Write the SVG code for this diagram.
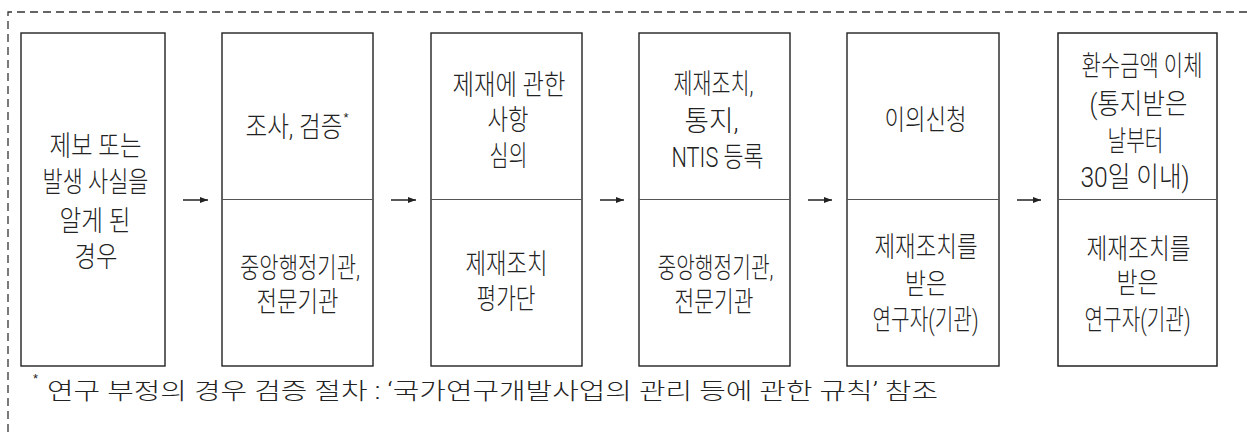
<svg xmlns="http://www.w3.org/2000/svg" width="1247" height="432" viewBox="0 0 1247 432">
<style>
.box{fill:#fff;stroke:#222;stroke-width:1.4}
.div{stroke:#555;stroke-width:1.2}
.t{font-family:"Roboto","Liberation Sans","Noto Sans CJK KR",sans-serif;font-size:28px;font-weight:300;fill:#222;text-anchor:middle}
.fn{font-family:"Roboto","Liberation Sans","Noto Sans CJK KR",sans-serif;font-size:23px;font-weight:300;fill:#222}
.sup{font-family:"Liberation Sans",sans-serif;font-size:13px;fill:#222}
.s13{font-family:"Liberation Sans",sans-serif;font-size:13px}
.arr{stroke:#222;stroke-width:1.5;fill:none}
.frame{fill:none;stroke:#333;stroke-width:1.3;stroke-dasharray:8 5}
</style>
<defs>
<marker id="ah" viewBox="0 0 8 6" refX="8" refY="3" markerWidth="8" markerHeight="6" markerUnits="userSpaceOnUse" orient="auto">
<path d="M0,0 L8,3 L0,6 Z" fill="#222"/>
</marker>
</defs>
<path class="frame" d="M8,432 V12 H1247"/>

<g id="n1">
<rect class="box" x="21" y="33" width="144" height="333"/>
<text class="t" x="95.5" y="156" textLength="92" lengthAdjust="spacingAndGlyphs">제보 또는</text>
<text class="t" x="95.5" y="192" textLength="106" lengthAdjust="spacingAndGlyphs">발생 사실을</text>
<text class="t" x="95" y="230.5" textLength="71" lengthAdjust="spacingAndGlyphs">알게 된</text>
<text class="t" x="96" y="266.5" textLength="43" lengthAdjust="spacingAndGlyphs">경우</text>
</g>

<g id="n2">
<rect class="box" x="222" y="33" width="151" height="333"/>
<line class="div" x1="222" y1="199.5" x2="373" y2="199.5"/>
<text class="t" x="297" y="137"><tspan textLength="97" lengthAdjust="spacingAndGlyphs">조사, 검증</tspan><tspan class="s13" dx="1" dy="-15">*</tspan></text>
<text class="t" x="300" y="277.5" textLength="120" lengthAdjust="spacingAndGlyphs">중앙행정기관,</text>
<text class="t" x="297.5" y="311.5" textLength="82" lengthAdjust="spacingAndGlyphs">전문기관</text>
</g>

<g id="n3">
<rect class="box" x="431" y="33" width="151" height="333"/>
<line class="div" x1="431" y1="199.5" x2="582" y2="199.5"/>
<text class="t" x="509" y="94.5" textLength="113" lengthAdjust="spacingAndGlyphs">제재에 관한</text>
<text class="t" x="508" y="129.5" textLength="41" lengthAdjust="spacingAndGlyphs">사항</text>
<text class="t" x="508.5" y="165.5" textLength="38" lengthAdjust="spacingAndGlyphs">심의</text>
<text class="t" x="506.5" y="274" textLength="82" lengthAdjust="spacingAndGlyphs">제재조치</text>
<text class="t" x="506" y="309" textLength="59" lengthAdjust="spacingAndGlyphs">평가단</text>
</g>

<g id="n4">
<rect class="box" x="639" y="33" width="151" height="333"/>
<line class="div" x1="639" y1="199.5" x2="790" y2="199.5"/>
<text class="t" x="713.5" y="93.5" textLength="80" lengthAdjust="spacingAndGlyphs">제재조치,</text>
<text class="t" x="711.5" y="130.5" textLength="54" lengthAdjust="spacingAndGlyphs">통지,</text>
<text class="t" x="717.5" y="166.5" textLength="92" lengthAdjust="spacingAndGlyphs">NTIS 등록</text>
<text class="t" x="715.5" y="277.5" textLength="116" lengthAdjust="spacingAndGlyphs">중앙행정기관,</text>
<text class="t" x="714" y="311.5" textLength="79" lengthAdjust="spacingAndGlyphs">전문기관</text>
</g>

<g id="n5">
<rect class="box" x="847" y="33" width="152" height="333"/>
<line class="div" x1="847" y1="199.5" x2="999" y2="199.5"/>
<text class="t" x="925.5" y="129.5" textLength="82" lengthAdjust="spacingAndGlyphs">이의신청</text>
<text class="t" x="926" y="257" textLength="103" lengthAdjust="spacingAndGlyphs">제재조치를</text>
<text class="t" x="926" y="293.5" textLength="42" lengthAdjust="spacingAndGlyphs">받은</text>
<text class="t" x="925.5" y="329.5" textLength="106" lengthAdjust="spacingAndGlyphs">연구자(기관)</text>
</g>

<g id="n6">
<rect class="box" x="1058" y="33" width="159" height="333" style="stroke-width:1.5"/>
<line class="div" x1="1058" y1="199.5" x2="1217" y2="199.5"/>
<text class="t" x="1142" y="76" textLength="121" lengthAdjust="spacingAndGlyphs">환수금액 이체</text>
<text class="t" x="1138.5" y="113.5" textLength="98" lengthAdjust="spacingAndGlyphs">(통지받은</text>
<text class="t" x="1135.5" y="150.5" textLength="56" lengthAdjust="spacingAndGlyphs">날부터</text>
<text class="t" x="1135" y="186.5" textLength="109" lengthAdjust="spacingAndGlyphs">30일 이내)</text>
<text class="t" x="1138.5" y="258.5" textLength="104" lengthAdjust="spacingAndGlyphs">제재조치를</text>
<text class="t" x="1137.5" y="292.5" textLength="42" lengthAdjust="spacingAndGlyphs">받은</text>
<text class="t" x="1137.5" y="329.5" textLength="106" lengthAdjust="spacingAndGlyphs">연구자(기관)</text>
</g>

<g id="connectors">
<line class="arr" x1="183" y1="200" x2="208" y2="200" marker-end="url(#ah)"/>
<line class="arr" x1="391" y1="200" x2="416" y2="200" marker-end="url(#ah)"/>
<line class="arr" x1="600" y1="200" x2="624" y2="200" marker-end="url(#ah)"/>
<line class="arr" x1="808" y1="200" x2="832" y2="200" marker-end="url(#ah)"/>
<line class="arr" x1="1017" y1="200" x2="1041" y2="200" marker-end="url(#ah)"/>
</g>

<g id="footnote">
<text class="sup" x="33" y="383">*</text>
<text class="fn" x="47" y="398.5" textLength="891" lengthAdjust="spacingAndGlyphs">연구 부정의 경우 검증 절차 : ‘국가연구개발사업의 관리 등에 관한 규칙’ 참조</text>
</g>
</svg>
